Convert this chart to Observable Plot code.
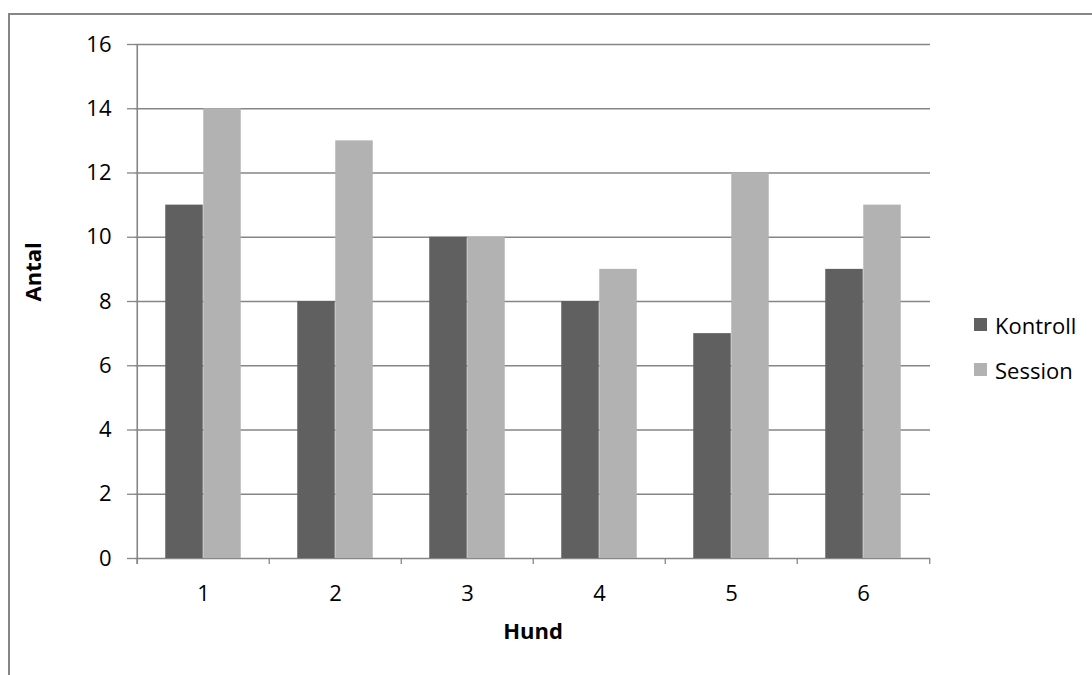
<!DOCTYPE html>
<html>
<head>
<meta charset="utf-8">
<script src="https://cdn.jsdelivr.net/npm/d3@7"></script>
<script src="https://cdn.jsdelivr.net/npm/@observablehq/plot@0.6"></script>
<style>
  html, body { margin: 0; padding: 0; background: #fff; }
  #wrap { position: relative; width: 1092px; height: 675px; overflow: hidden; font-family: "Open Sans", sans-serif; }
  #border { position: absolute; left: 8px; top: 13px; right: -10px; bottom: -10px; border-top: 2px solid #868686; border-left: 2px solid #868686; }
  #chart { position: absolute; left: 0; top: 0; }
  #legend { position: absolute; left: 974px; top: 302px; font-size: 22px; color: #000; }
  .item { display: flex; align-items: center; height: 45px; }
  .sw { width: 13px; height: 13px; margin-right: 8px; }
</style>
</head>
<body>
<div id="wrap">
  <div id="border"></div>
  <div id="chart"></div>
  <div id="legend"></div>
</div>
<script>
const hund = ["1", "2", "3", "4", "5", "6"];
const kontroll = [11, 8, 10, 8, 7, 9];
const session = [14, 13, 10, 9, 12, 11];
const series = ["Kontroll", "Session"];
const colors = ["#606060", "#b2b2b2"];
const yTicks = [0, 2, 4, 6, 8, 10, 12, 14, 16];

const data = hund.map((h, i) => ({hund: h, Kontroll: kontroll[i], Session: session[i]}));
const gray = "#868686";
const step = 132.5, barW = 38, outer = (step - 2 * barW) / 2;

const plot = Plot.plot({
  width: 1092,
  height: 675,
  marginLeft: 135,
  marginRight: 162,
  marginTop: 44,
  marginBottom: 117,
  style: {fontFamily: "Open Sans, sans-serif", fontSize: "22px", color: "#000", background: "transparent"},
  x: {domain: hund, padding: 0, label: null},
  y: {domain: [0, 16], label: null},
  marks: [
    Plot.gridY(yTicks, {stroke: gray, strokeOpacity: 1, strokeWidth: 1.3}),
    Plot.barY(data, {x: "hund", y: "Kontroll", fill: colors[0], insetLeft: outer, insetRight: outer + barW}),
    Plot.barY(data, {x: "hund", y: "Session", fill: colors[1], insetLeft: outer + barW, insetRight: outer}),
    Plot.ruleX(hund, {x: d => d, dx: -step / 2, y1: 0, y2: 0, insetBottom: -6, stroke: gray, strokeWidth: 1.3}),
    Plot.ruleX(hund.slice(-1), {x: d => d, dx: step / 2, y1: 0, y2: 0, insetBottom: -6, stroke: gray, strokeWidth: 1.3}),
    Plot.ruleX(hund.slice(0, 1), {x: d => d, dx: -step / 2, y1: 16, y2: 0, insetBottom: -6, stroke: gray, strokeWidth: 1.6}),
    Plot.axisY(yTicks, {tickSize: 8, tickPadding: 16, stroke: gray, strokeWidth: 1.3, label: null, fill: "#000"}),
    Plot.axisX({tickSize: 0, tickPadding: 27, label: null, fill: "#000"}),
    Plot.text(["Hund"], {frameAnchor: "bottom", dy: 80, fontWeight: "bold", fontSize: 22, fill: "#000"}),
    Plot.text(["Antal"], {frameAnchor: "left", dx: -102, rotate: -90, fontWeight: "bold", fontSize: 22, fill: "#000"})
  ]
});
document.getElementById("chart").append(plot);

const legend = document.getElementById("legend");
series.forEach((s, i) => {
  const item = document.createElement("div");
  item.className = "item";
  const sw = document.createElement("span");
  sw.className = "sw";
  sw.style.background = colors[i];
  const t = document.createElement("span");
  t.textContent = s;
  item.append(sw, t);
  legend.append(item);
});
</script>
</body>
</html>
